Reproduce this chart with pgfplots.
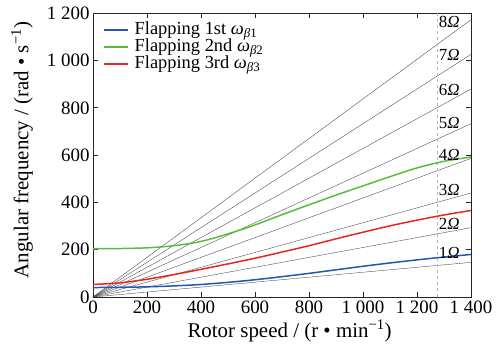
\documentclass[border=0pt]{standalone}
\usepackage{pgfplots}
\pgfplotsset{compat=1.18}
\usepackage{fontspec}
\setmainfont{Liberation Serif}
\definecolor{cblue}{RGB}{35,85,180}
\definecolor{cgreen}{RGB}{85,190,60}
\definecolor{cred}{RGB}{235,35,35}
\definecolor{cdash}{RGB}{200,170,205}
\begin{document}
\begin{tikzpicture}
\useasboundingbox (-93bp,-52bp) rectangle (408bp,297bp);
\begin{axis}[
  at={(0,0)}, anchor=south west,
  scale only axis, width=378bp, height=283.7bp,
  xmin=0, xmax=1400, ymin=0, ymax=1200,
  xtick={0,200,...,1400}, ytick={0,200,...,1200},
  /pgf/number format/assume math mode=true,
  /pgf/number format/1000 sep={\hspace{0.25em}},
  tick label style={font=\fontsize{19}{22}\selectfont},
  label style={font=\fontsize{21}{24}\selectfont},
  xlabel={Rotor speed / (r • min\textsuperscript{−1})},
  ylabel={Angular frequency / (rad • s\textsuperscript{−1})},
  xlabel style={at={(axis description cs:0.52,-0.12)}, anchor=center},
  ylabel style={at={(axis description cs:-0.188,0.518)}, anchor=center, rotate=0},
  axis line style={line width=0.9pt, black!85},
  major tick length=5bp,
  tick style={line width=0.8pt, black!85},
  legend style={draw=none, fill=none, at={(0.025,0.975)}, anchor=north west,
    font=\fontsize{18.5}{18}\selectfont, row sep=0.5bp, inner sep=1pt,
    nodes={inner sep=0.5bp, text height=12bp, text depth=3.5bp},
    /tikz/every odd column/.append style={column sep=5bp}},
  legend cell align=left,
  legend image code/.code={\draw[line width=1.5pt] (0bp,0bp) -- (24bp,0bp);},
]
\addlegendimage{cblue}
\addlegendentry{Flapping 1st \textit{ω}\textsubscript{\textit{β}1}}
\addlegendimage{cgreen}
\addlegendentry{Flapping 2nd \textit{ω}\textsubscript{\textit{β}2}}
\addlegendimage{cred}
\addlegendentry{Flapping 3rd \textit{ω}\textsubscript{\textit{β}3}}
% per-rev lines
\addplot[forget plot, black!75, line width=0.35pt] coordinates {(0,0) (1400,146.6)};
\addplot[forget plot, black!75, line width=0.35pt] coordinates {(0,0) (1400,293.2)};
\addplot[forget plot, black!75, line width=0.35pt] coordinates {(0,0) (1400,439.8)};
\addplot[forget plot, black!75, line width=0.35pt] coordinates {(0,0) (1400,586.4)};
\addplot[forget plot, black!75, line width=0.35pt] coordinates {(0,0) (1400,733.0)};
\addplot[forget plot, black!75, line width=0.35pt] coordinates {(0,0) (1400,879.6)};
\addplot[forget plot, black!75, line width=0.35pt] coordinates {(0,0) (1400,1026.3)};
\addplot[forget plot, black!75, line width=0.35pt] coordinates {(0,0) (1400,1172.9)};
\addplot[forget plot, cdash, dashed, line width=0.6pt] coordinates {(1275,0) (1275,1200)};
% curves
\addplot[forget plot, cblue, line width=1.5pt, smooth] coordinates {
(0,40) (100,41) (200,43) (300,47) (400,53) (500,62) (600,73) (700,86) (800,100)
(900,115) (1000,130) (1100,144) (1200,157) (1300,169) (1400,180)};
\addplot[forget plot, cgreen, line width=1.5pt, smooth] coordinates {
(0,204) (100,205) (200,208) (300,217) (400,235) (500,267) (600,305) (700,348) (800,390)
(900,431) (1000,470) (1100,509) (1200,546) (1300,574) (1400,592)};
\addplot[forget plot, cred, line width=1.5pt, smooth] coordinates {
(0,53) (100,60) (200,75) (300,95) (400,117) (500,140) (600,164) (700,190) (800,217)
(900,246) (1000,274) (1100,301) (1200,325) (1300,347) (1400,366)};
% labels
\begin{scope}[every node/.style={anchor=west, inner sep=0pt, font=\fontsize{17}{17}\selectfont, fill=none}]
\node at (axis cs:1280,186) {1\textit{Ω}};
\node at (axis cs:1280,309) {2\textit{Ω}};
\node at (axis cs:1280,453) {3\textit{Ω}};
\node at (axis cs:1280,600) {4\textit{Ω}};
\node at (axis cs:1280,736) {5\textit{Ω}};
\node at (axis cs:1280,876) {6\textit{Ω}};
\node at (axis cs:1280,1024) {7\textit{Ω}};
\node at (axis cs:1280,1163) {8\textit{Ω}};
\end{scope}
\end{axis}
\end{tikzpicture}
\end{document}
